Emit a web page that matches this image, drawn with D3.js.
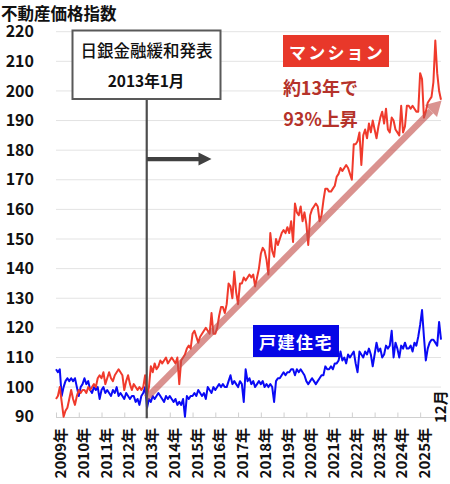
<!DOCTYPE html>
<html><head><meta charset="utf-8">
<script src="https://cdn.jsdelivr.net/npm/d3@7/dist/d3.min.js"></script>
<style>
html,body{margin:0;padding:0;background:#fff;}
svg{display:block;font-family:"Noto Sans CJK JP","Noto Sans",sans-serif;}
</style></head>
<body>
<svg id="c" width="450" height="484"></svg>
<script>
const years = ["2009年","2010年","2011年","2012年","2013年","2014年","2015年","2016年","2017年","2018年","2019年","2020年","2021年","2022年","2023年","2024年","2025年"];
const yTicks = [90,100,110,120,130,140,150,160,170,180,190,200,210,220];
// マンション monthly index, 2009-01 .. 2025-12
const mansion = [
96,97,100,95,90,92,93,96,99,96,94,97,
99,98,99,99,98,100,99,100,101,100,103,104,
103,105,101,103,105,103,102,104,105,106,105,104,
99,102,104,101,99,101,100,99,100,99,100,104,
97,100,107,105,108,106,107,109,108,109,110,108,
109,110,109,108,110,101,109,110,111,113,114,113,
118,119,117,115,117,118,119,120,119,118,125,118,
118,120,124,127,127,125,128,135,134,130,139,132,
128,135,135,137,136,137,138,137,138,134,137,140,
145,147,146,143,138,152,146,144,150,148,150,152,
153,152,154,152,156,149,162,159,158,161,156,159,
155,148,158,160,161,162,161,156,158,163,167,167,
166,166,167,168,171,172,174,173,174,175,174,172,
170,182,182,183,186,175,185,187,184,189,186,190,
187,184,188,191,193,189,194,187,186,191,190,187,
186,185,195,186,188,195,195,194,195,194,193,193,
206,204,191,193,196,197,198,203,217,206,200,197];
// 戸建住宅 monthly index, 2009-01 .. 2025-12
const detached = [
106,105,106,97,100,102,103,102,103,102,103,100,
97,100,101,103,101,102,99,98,100,99,100,96,
99,100,98,99,98,97,99,98,100,97,98,97,
96,98,97,96,97,97,95,96,94,97,98,100,
93,96,95,97,96,97,98,97,96,95,97,96,
97,96,95,96,94,95,94,96,90,97,96,97,
97,98,97,99,98,97,98,96,100,99,98,100,
99,100,101,100,101,100,100,102,104,101,102,101,
100,102,101,95,106,102,103,101,102,100,101,102,
101,102,100,101,100,101,100,95,102,103,103,104,
105,104,105,105,106,106,104,106,105,106,105,104,
102,101,102,103,102,101,102,103,104,104,107,106,
106,107,106,108,108,109,112,109,110,108,111,110,
111,112,108,105,112,111,110,112,111,113,111,107,
111,115,112,113,110,111,114,113,114,119,110,115,
113,110,114,113,115,113,113,114,112,115,114,117,
121,126,117,109,113,115,116,116,115,114,122,116];
const eventMonth = 48;         // 2013年1月
const trendStart = [47.7, 96.3];
const trendEnd = [203.3, 196.8];
const pointerFrom = [48, 177];
const pointerTo = [82, 177];

const svg = d3.select("#c");
const x = d3.scaleLinear().domain([0, 203]).range([56, 441]);
const y = d3.scaleLinear().domain([90, 220]).range([416.7, 31.7]);

// grid
svg.append("g").selectAll("line").data(yTicks.filter(d=>d>90)).join("line")
  .attr("x1", x(0)).attr("x2", x(203)).attr("y1", d=>y(d)).attr("y2", d=>y(d))
  .attr("stroke", "#e3e3e3").attr("stroke-width", 1);

// x axis
const xAxis = d3.axisBottom(x).tickValues(years.map((d,i)=>i*12)).tickSize(-5).tickFormat("");
const gx = svg.append("g").attr("transform", `translate(0,${y(90)+0.8})`).call(xAxis);
gx.select(".domain").attr("stroke", "#d0d0d0").attr("d", `M${x(0)},0H${x(203)+1}`);
gx.selectAll(".tick line").attr("stroke", "#d0d0d0");
svg.append("g").selectAll("text").data(years).join("text")
  .attr("transform", (d,i)=>`translate(${x(i*12)+3.5},428) rotate(-90)`)
  .attr("text-anchor", "end").attr("dominant-baseline", "central")
  .attr("font-size", 15).attr("font-weight", 700).attr("fill", "#111").text(d=>d);
svg.append("text").attr("transform", `translate(${x(203)-2},423) rotate(-90)`)
  .attr("text-anchor", "start").attr("dominant-baseline", "central")
  .attr("font-size", 15).attr("font-weight", 700).attr("fill", "#111").text("12月");

// y axis labels
const yAxis = d3.axisLeft(y).tickValues(yTicks).tickSize(0).tickPadding(0);
const gy = svg.append("g").attr("transform", "translate(34,0)").call(yAxis);
gy.select(".domain").remove();
gy.selectAll("text").attr("font-size", 16).attr("font-weight", 700).attr("fill", "#111")
  .attr("font-family", '"Noto Sans CJK JP",sans-serif');

// title
svg.append("text").attr("x", 1).attr("y", 19.5).attr("font-size", 16.5).attr("font-weight", 700)
  .attr("fill", "#111").text("不動産価格指数");

// lines
const line = d3.line().x((d,i)=>x(i)).y(d=>y(d));
svg.append("path").datum(detached).attr("d", line).attr("fill","none")
  .attr("stroke", "#0a0af5").attr("stroke-width", 2).attr("stroke-linejoin","round");
svg.append("path").datum(mansion).attr("d", line).attr("fill","none")
  .attr("stroke", "#f03a2c").attr("stroke-width", 2).attr("stroke-linejoin","round");

// trend arrow (semi-transparent)
{
  const x0 = x(trendStart[0]), y0 = y(trendStart[1]), x1 = x(trendEnd[0]), y1 = y(trendEnd[1]);
  const ang = Math.atan2(y1-y0, x1-x0);
  const hl = 15, hw = 8.5;
  const bx = x1 - hl*Math.cos(ang), by = y1 - hl*Math.sin(ang);
  const g = svg.append("g").attr("opacity", 0.62);
  g.append("line").attr("x1", x0).attr("y1", y0).attr("x2", bx).attr("y2", by)
    .attr("stroke", "#c4504c").attr("stroke-width", 6.5);
  const px = -Math.sin(ang), py = Math.cos(ang);
  g.append("path").attr("d", `M${x1},${y1}L${bx+px*hw},${by+py*hw}L${bx-px*hw},${by-py*hw}Z`)
    .attr("fill", "#c4504c");
}

// event vertical line
svg.append("line").attr("x1", x(eventMonth)-0.3).attr("x2", x(eventMonth)-0.3)
  .attr("y1", 99).attr("y2", y(90)+1.5).attr("stroke", "#4d4d4d").attr("stroke-width", 2.2);

// annotation box
svg.append("rect").attr("x", 72.5).attr("y", 30.5).attr("width", 148).attr("height", 68.5)
  .attr("fill", "#fff").attr("stroke", "#595959").attr("stroke-width", 2);
svg.append("text").attr("x", 146.5).attr("y", 50).attr("text-anchor","middle").attr("dominant-baseline","central")
  .attr("font-size", 16.5).attr("font-weight", 500).attr("fill", "#111").text("日銀金融緩和発表");
svg.append("text").attr("x", 146).attr("y", 80).attr("text-anchor","middle").attr("dominant-baseline","central")
  .attr("font-size", 15.5).attr("font-weight", 700).attr("fill", "#111").text("2013年1月");

// dark pointer arrow
{
  const x0 = x(pointerFrom[0]), x1 = x(pointerTo[0]), yy = y(pointerFrom[1]);
  svg.append("line").attr("x1", x0).attr("x2", x1-12).attr("y1", yy).attr("y2", yy)
    .attr("stroke", "#404040").attr("stroke-width", 4.2);
  svg.append("path").attr("d", `M${x1},${yy}L${x1-13},${yy-6.5}L${x1-13},${yy+6.5}Z`).attr("fill", "#404040");
}

// labels
svg.append("rect").attr("x", 283).attr("y", 35).attr("width", 106).attr("height", 32).attr("fill", "#e8382a");
svg.append("text").attr("x", 337).attr("y", 51.5).attr("text-anchor","middle").attr("dominant-baseline","central")
  .attr("font-size", 17).attr("font-weight", 700).attr("fill", "#fff").attr("letter-spacing", 2.2).text("マンション");
svg.append("text").attr("x", 320.5).attr("y", 87).attr("text-anchor","middle").attr("dominant-baseline","central")
  .attr("font-size", 18).attr("font-weight", 700).attr("fill", "#b5322a").text("約13年で");
svg.append("text").attr("x", 320.5).attr("y", 118).attr("text-anchor","middle").attr("dominant-baseline","central")
  .attr("font-size", 18).attr("font-weight", 700).attr("fill", "#b5322a").text("93%上昇");

svg.append("rect").attr("x", 253).attr("y", 325).attr("width", 86).attr("height", 32).attr("fill", "#0606e6");
svg.append("text").attr("x", 296).attr("y", 341.5).attr("text-anchor","middle").attr("dominant-baseline","central")
  .attr("font-size", 17).attr("font-weight", 700).attr("fill", "#fff").attr("letter-spacing", 1.5).text("戸建住宅");
</script>
</body></html>
